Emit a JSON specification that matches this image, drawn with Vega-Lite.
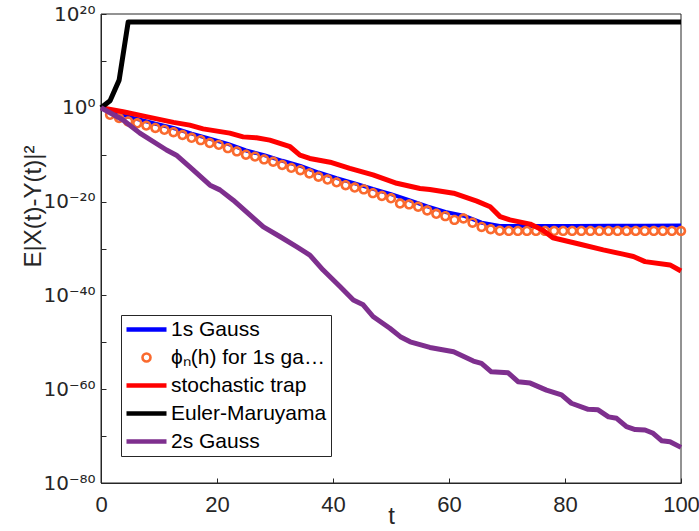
{
  "$schema": "https://vega.github.io/schema/vega-lite/v6.json",
  "width": 580,
  "height": 469,
  "autosize": {"type": "none"},
  "padding": {"left": 101, "top": 14, "right": 18, "bottom": 48},
  "background": "white",
  "config": {
    "view": {"stroke": null},
    "axis": {
      "grid": false,
      "domainColor": "#262626",
      "tickColor": "#262626",
      "labelColor": "#262626",
      "titleColor": "#262626",
      "labelFont": "Liberation Sans",
      "titleFont": "Liberation Sans",
      "labelFontSize": 22,
      "titleFontSize": 24,
      "titleFontWeight": "normal",
      "labelFlush": false,
      "labelOverlap": false
    },
    "legend": {
      "labelFont": "Liberation Sans",
      "labelFontSize": 21,
      "labelColor": "#000000"
    }
  },
  "datasets": {
    "curves": [
      {"s": "1s Gauss", "t": 0, "v": 0},
      {"s": "1s Gauss", "t": 3.125, "v": -1.3},
      {"s": "1s Gauss", "t": 6.25, "v": -2.4},
      {"s": "1s Gauss", "t": 9.375, "v": -3.4},
      {"s": "1s Gauss", "t": 12.5, "v": -4.3},
      {"s": "1s Gauss", "t": 15.625, "v": -5.5},
      {"s": "1s Gauss", "t": 18.75, "v": -6.6},
      {"s": "1s Gauss", "t": 21.875, "v": -7.7},
      {"s": "1s Gauss", "t": 25, "v": -9.1},
      {"s": "1s Gauss", "t": 28.125, "v": -10.1},
      {"s": "1s Gauss", "t": 31.25, "v": -11.3},
      {"s": "1s Gauss", "t": 34.375, "v": -12.4},
      {"s": "1s Gauss", "t": 37.5, "v": -13.8},
      {"s": "1s Gauss", "t": 40.625, "v": -15.0},
      {"s": "1s Gauss", "t": 43.75, "v": -16.1},
      {"s": "1s Gauss", "t": 46.875, "v": -17.3},
      {"s": "1s Gauss", "t": 50, "v": -18.4},
      {"s": "1s Gauss", "t": 53.125, "v": -19.7},
      {"s": "1s Gauss", "t": 56.25, "v": -21.0},
      {"s": "1s Gauss", "t": 59.375, "v": -22.2},
      {"s": "1s Gauss", "t": 62.5, "v": -23.0},
      {"s": "1s Gauss", "t": 65.625, "v": -24.5},
      {"s": "1s Gauss", "t": 68.75, "v": -25.2},
      {"s": "1s Gauss", "t": 75, "v": -25.2},
      {"s": "1s Gauss", "t": 81.25, "v": -25.2},
      {"s": "1s Gauss", "t": 87.5, "v": -25.15},
      {"s": "1s Gauss", "t": 93.75, "v": -25.15},
      {"s": "1s Gauss", "t": 100, "v": -25.1},

      {"s": "stochastic trap", "t": 0, "v": 0},
      {"s": "stochastic trap", "t": 3.8, "v": -0.83},
      {"s": "stochastic trap", "t": 8.2, "v": -2.0},
      {"s": "stochastic trap", "t": 12.5, "v": -3.1},
      {"s": "stochastic trap", "t": 15.3, "v": -3.7},
      {"s": "stochastic trap", "t": 17.6, "v": -4.5},
      {"s": "stochastic trap", "t": 22.2, "v": -5.4},
      {"s": "stochastic trap", "t": 24.5, "v": -6.2},
      {"s": "stochastic trap", "t": 26.8, "v": -6.4},
      {"s": "stochastic trap", "t": 29.1, "v": -6.9},
      {"s": "stochastic trap", "t": 32.6, "v": -8.3},
      {"s": "stochastic trap", "t": 34.3, "v": -10.1},
      {"s": "stochastic trap", "t": 36, "v": -10.8},
      {"s": "stochastic trap", "t": 39.5, "v": -11.6},
      {"s": "stochastic trap", "t": 42.9, "v": -12.9},
      {"s": "stochastic trap", "t": 46.9, "v": -14.3},
      {"s": "stochastic trap", "t": 51, "v": -16.1},
      {"s": "stochastic trap", "t": 55, "v": -17.2},
      {"s": "stochastic trap", "t": 56.7, "v": -17.4},
      {"s": "stochastic trap", "t": 60.8, "v": -18.2},
      {"s": "stochastic trap", "t": 64.8, "v": -19.9},
      {"s": "stochastic trap", "t": 67.1, "v": -21.1},
      {"s": "stochastic trap", "t": 68.8, "v": -23.2},
      {"s": "stochastic trap", "t": 70.5, "v": -23.9},
      {"s": "stochastic trap", "t": 74, "v": -24.8},
      {"s": "stochastic trap", "t": 76.2, "v": -26.1},
      {"s": "stochastic trap", "t": 77.9, "v": -27.7},
      {"s": "stochastic trap", "t": 82.6, "v": -29.1},
      {"s": "stochastic trap", "t": 86.6, "v": -30.3},
      {"s": "stochastic trap", "t": 90, "v": -31.2},
      {"s": "stochastic trap", "t": 91.8, "v": -31.7},
      {"s": "stochastic trap", "t": 93.8, "v": -32.8},
      {"s": "stochastic trap", "t": 98.1, "v": -33.5},
      {"s": "stochastic trap", "t": 100, "v": -34.8},

      {"s": "Euler-Maruyama", "t": 0, "v": 0},
      {"s": "Euler-Maruyama", "t": 1.5625, "v": 1.5},
      {"s": "Euler-Maruyama", "t": 3.125, "v": 5.9},
      {"s": "Euler-Maruyama", "t": 4.6875, "v": 18.3},
      {"s": "Euler-Maruyama", "t": 25, "v": 18.3},
      {"s": "Euler-Maruyama", "t": 50, "v": 18.3},
      {"s": "Euler-Maruyama", "t": 75, "v": 18.3},
      {"s": "Euler-Maruyama", "t": 100, "v": 18.3},

      {"s": "2s Gauss", "t": 0, "v": 0},
      {"s": "2s Gauss", "t": 3.8, "v": -2.6},
      {"s": "2s Gauss", "t": 6.7, "v": -5.4},
      {"s": "2s Gauss", "t": 11.3, "v": -9.0},
      {"s": "2s Gauss", "t": 13.0, "v": -10.1},
      {"s": "2s Gauss", "t": 15.3, "v": -12.6},
      {"s": "2s Gauss", "t": 18.8, "v": -16.5},
      {"s": "2s Gauss", "t": 20.5, "v": -17.5},
      {"s": "2s Gauss", "t": 22.8, "v": -19.7},
      {"s": "2s Gauss", "t": 28, "v": -25.4},
      {"s": "2s Gauss", "t": 30.9, "v": -27.5},
      {"s": "2s Gauss", "t": 33.7, "v": -29.6},
      {"s": "2s Gauss", "t": 36, "v": -31.4},
      {"s": "2s Gauss", "t": 38.3, "v": -34.6},
      {"s": "2s Gauss", "t": 41.2, "v": -38.1},
      {"s": "2s Gauss", "t": 43.5, "v": -41.0},
      {"s": "2s Gauss", "t": 45.2, "v": -42.0},
      {"s": "2s Gauss", "t": 46.9, "v": -44.5},
      {"s": "2s Gauss", "t": 49.8, "v": -47.0},
      {"s": "2s Gauss", "t": 51.6, "v": -48.8},
      {"s": "2s Gauss", "t": 53.3, "v": -49.9},
      {"s": "2s Gauss", "t": 56.7, "v": -51.1},
      {"s": "2s Gauss", "t": 60.8, "v": -52.0},
      {"s": "2s Gauss", "t": 64.2, "v": -54.0},
      {"s": "2s Gauss", "t": 65.6, "v": -54.5},
      {"s": "2s Gauss", "t": 67.3, "v": -56.3},
      {"s": "2s Gauss", "t": 70.2, "v": -56.5},
      {"s": "2s Gauss", "t": 71.9, "v": -58.4},
      {"s": "2s Gauss", "t": 74, "v": -58.7},
      {"s": "2s Gauss", "t": 76.8, "v": -60.2},
      {"s": "2s Gauss", "t": 79.4, "v": -61.2},
      {"s": "2s Gauss", "t": 81.1, "v": -63.0},
      {"s": "2s Gauss", "t": 84, "v": -64.3},
      {"s": "2s Gauss", "t": 85.7, "v": -64.4},
      {"s": "2s Gauss", "t": 87.5, "v": -65.9},
      {"s": "2s Gauss", "t": 88.9, "v": -66.2},
      {"s": "2s Gauss", "t": 90.6, "v": -68.0},
      {"s": "2s Gauss", "t": 92.1, "v": -68.6},
      {"s": "2s Gauss", "t": 93.8, "v": -68.7},
      {"s": "2s Gauss", "t": 95.2, "v": -69.4},
      {"s": "2s Gauss", "t": 96.7, "v": -71.0},
      {"s": "2s Gauss", "t": 98.1, "v": -71.2},
      {"s": "2s Gauss", "t": 100, "v": -72.4}
    ],
    "phi": [
      {"t": 1.5625, "v": -1.5},
      {"t": 3.125, "v": -2.2},
      {"t": 4.6875, "v": -2.9},
      {"t": 6.25, "v": -3.3},
      {"t": 7.8125, "v": -3.8},
      {"t": 9.375, "v": -4.3},
      {"t": 10.9375, "v": -4.7},
      {"t": 12.5, "v": -5.2},
      {"t": 14.0625, "v": -5.8},
      {"t": 15.625, "v": -6.4},
      {"t": 17.1875, "v": -6.9},
      {"t": 18.75, "v": -7.5},
      {"t": 20.3125, "v": -7.9},
      {"t": 21.875, "v": -8.6},
      {"t": 23.4375, "v": -9.3},
      {"t": 25.0, "v": -10.0},
      {"t": 26.5625, "v": -10.4},
      {"t": 28.125, "v": -11.0},
      {"t": 29.6875, "v": -11.5},
      {"t": 31.25, "v": -12.2},
      {"t": 32.8125, "v": -12.8},
      {"t": 34.375, "v": -13.3},
      {"t": 35.9375, "v": -14.0},
      {"t": 37.5, "v": -14.7},
      {"t": 39.0625, "v": -15.3},
      {"t": 40.625, "v": -15.9},
      {"t": 42.1875, "v": -16.5},
      {"t": 43.75, "v": -17.0},
      {"t": 45.3125, "v": -17.4},
      {"t": 46.875, "v": -18.2},
      {"t": 48.4375, "v": -18.8},
      {"t": 50.0, "v": -19.3},
      {"t": 51.5625, "v": -20.4},
      {"t": 53.125, "v": -20.6},
      {"t": 54.6875, "v": -21.1},
      {"t": 56.25, "v": -21.9},
      {"t": 57.8125, "v": -22.6},
      {"t": 59.375, "v": -23.1},
      {"t": 60.9375, "v": -23.9},
      {"t": 62.5, "v": -23.6},
      {"t": 64.0625, "v": -24.5},
      {"t": 65.625, "v": -25.4},
      {"t": 67.1875, "v": -25.9},
      {"t": 68.75, "v": -26.2},
      {"t": 70.3125, "v": -26.25},
      {"t": 71.875, "v": -26.25},
      {"t": 73.4375, "v": -26.25},
      {"t": 75.0, "v": -26.25},
      {"t": 76.5625, "v": -26.25},
      {"t": 78.125, "v": -26.25},
      {"t": 79.6875, "v": -26.25},
      {"t": 81.25, "v": -26.25},
      {"t": 82.8125, "v": -26.25},
      {"t": 84.375, "v": -26.25},
      {"t": 85.9375, "v": -26.25},
      {"t": 87.5, "v": -26.25},
      {"t": 89.0625, "v": -26.25},
      {"t": 90.625, "v": -26.25},
      {"t": 92.1875, "v": -26.25},
      {"t": 93.75, "v": -26.25},
      {"t": 95.3125, "v": -26.25},
      {"t": 96.875, "v": -26.25},
      {"t": 98.4375, "v": -26.25},
      {"t": 100.0, "v": -26.25}
    ]
  },
  "layer": [
    {
      "data": {"values": [{}]},
      "mark": {"type": "rect", "fillOpacity": 0, "stroke": "#262626", "strokeWidth": 1},
      "encoding": {
        "x": {"datum": 0, "type": "quantitative", "scale": {"domain": [0, 100], "nice": false, "zero": false}},
        "x2": {"datum": 100},
        "y": {"datum": -80, "type": "quantitative", "scale": {"domain": [-80, 20], "nice": false, "zero": false}},
        "y2": {"datum": 20}
      }
    },
    {
      "data": {"name": "curves"},
      "transform": [{"filter": "datum.s == '1s Gauss'"}],
      "mark": {"type": "line", "strokeWidth": 4, "strokeJoin": "round"},
      "encoding": {
        "x": {
          "field": "t", "type": "quantitative",
          "axis": {"orient": "bottom", "values": [0, 20, 40, 60, 80, 100], "tickSize": -5, "labelPadding": 16, "title": "t", "titleY": 40, "titleBaseline": "alphabetic"}
        },
        "y": {
          "field": "v", "type": "quantitative",
          "axis": {
            "orient": "left",
            "values": [-80, -75, -70, -65, -60, -55, -50, -45, -40, -35, -30, -25, -20, -15, -10, -5, 0, 5, 10, 15, 20],
            "tickSize": -5,
            "labelPadding": 11,
            "labelFont": "DejaVu Sans",
            "labelFontSize": 20,
            "labelExpr": "datum.value == 20 ? '10²⁰' : datum.value == 0 ? '10⁰' : datum.value == -20 ? '10⁻²⁰' : datum.value == -40 ? '10⁻⁴⁰' : datum.value == -60 ? '10⁻⁶⁰' : datum.value == -80 ? '10⁻⁸⁰' : ''",
            "title": "E|X(t)-Y(t)|²",
            "titleX": -61,
            "titleY": 192,
            "titleAngle": 270,
            "titleAlign": "center",
            "titleBaseline": "alphabetic"
          }
        },
        "stroke": {
          "field": "s", "type": "nominal",
          "scale": {
            "domain": ["1s Gauss", "ϕₙ(h) for 1s gauss", "stochastic trap", "Euler-Maruyama", "2s Gauss"],
            "range": ["#0000FF", "#FA6A2E", "#FF0000", "#000000", "#7E2F8E"]
          },
          "legend": {
            "title": null,
            "orient": "none",
            "legendX": 20,
            "legendY": 301,
            "strokeColor": "#262626",
            "fillColor": "white",
            "padding": 4,
            "symbolSize": 400,
            "symbolOffset": 11,
            "labelOffset": 14,
            "rowPadding": 6,
            "encode": {
              "symbols": {
                "update": {
                  "shape": {"signal": "datum.value == 'ϕₙ(h) for 1s gauss' ? 'M0.4,0A0.4,0.4,0,1,1,-0.4,0A0.4,0.4,0,1,1,0.4,0Z' : 'M-2,0H2'"},
                  "strokeWidth": {"signal": "datum.value == 'ϕₙ(h) for 1s gauss' ? 2.6 : 4.5"},
                  "fill": {"value": "transparent"}
                }
              }
            }
          }
        }
      }
    },
    {
      "data": {"name": "phi"},
      "mark": {
        "type": "point", "filled": true, "size": 1600, "opacity": 1, "strokeWidth": 0, "clip": false, "color": "#FA6A2E",
        "shape": "M0.26,0A0.26,0.26,0,1,1,-0.26,0A0.26,0.26,0,1,1,0.26,0ZM0.13,0A0.13,0.13,0,1,0,-0.13,0A0.13,0.13,0,1,0,0.13,0Z"
      },
      "encoding": {
        "x": {"field": "t", "type": "quantitative"},
        "y": {"field": "v", "type": "quantitative"}
      }
    },
    {
      "data": {"name": "curves"},
      "transform": [{"filter": "datum.s != '1s Gauss'"}],
      "mark": {"type": "line", "strokeWidth": 5, "strokeJoin": "round"},
      "encoding": {
        "x": {"field": "t", "type": "quantitative"},
        "y": {"field": "v", "type": "quantitative"},
        "stroke": {"field": "s", "type": "nominal"}
      }
    }
  ]
}
